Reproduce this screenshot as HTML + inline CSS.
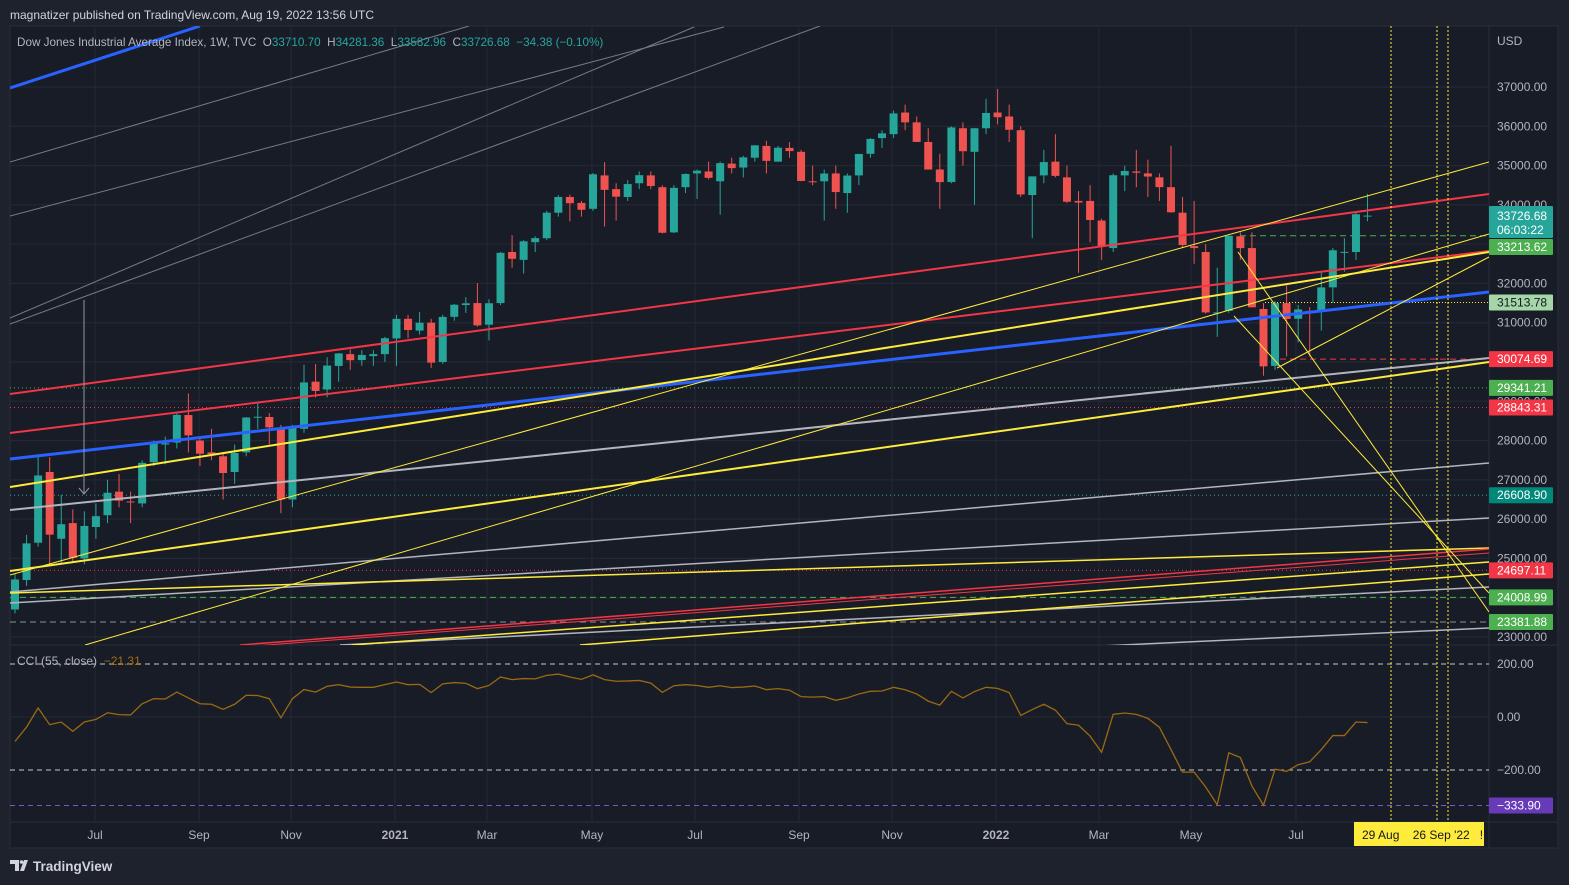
<!DOCTYPE html>
<html><head><meta charset="utf-8"><title>DJI weekly</title>
<style>
html,body{margin:0;padding:0;background:#1e222d;width:1569px;height:885px;overflow:hidden}
svg{display:block}
text{font-family:"Liberation Sans",sans-serif;white-space:pre}
</style></head>
<body>
<svg id="chart" width="1569" height="885" viewBox="0 0 1569 885" xmlns="http://www.w3.org/2000/svg"></svg>
<script>
// ---- data (weekly DJI, May 2020 - Aug 2022) ----
const opens=[23700,24450,25400,27200,25500,25900,25000,25800,26100,26700,26450,26400,27450,27900,27950,28650,28000,27700,27600,27200,27700,28600,28600,28300,26500,28300,29500,29300,29900,30200,30050,30150,30200,
30600,31100,30800,31000,30000,31150,31450,31500,30950,31500,32800,32600,33050,33150,33800,34200,34050,33900,34750,34400,34200,34550,34750,34450,33300,34450,34800,34850,34600,35050,34950,35200,35500,35100,35450,35350,34600,34600,34800,34300,34750,35300,35700,35800,36350,36100,35600,34900,34580,35950,35350,35950,
36350,36250,35900,34250,34750,35100,34700,34100,34100,33600,32900,34750,34850,34800,34700,34450,33800,32950,32800,31250,31300,33200,32900,31350,29900,31500,31100,31300,31300,31900,32800,32800,33711];
const highs=[24600,25600,27580,27580,26620,26250,26200,26400,27000,27150,26700,27500,28000,28100,28700,29200,28100,28300,27700,27900,28600,28950,28700,28400,28400,29930,29950,30120,30230,30320,30300,30300,30640,
31200,31200,31270,31100,31200,31480,31650,32010,31600,32800,33230,33100,33200,33850,34250,34260,34100,34810,35090,34550,34630,34850,34850,34500,34500,34800,34900,35100,35100,35200,35250,35520,35630,35500,35600,35400,35000,34900,35000,34800,35300,35700,35900,36400,36550,36250,35950,35300,36000,36100,35960,36700,
36950,36550,36000,34700,35400,35800,35000,34350,34500,33650,34800,35000,35400,35150,34800,35500,34200,34100,33000,32400,33220,33300,33300,31500,31550,31950,31450,31400,32300,32900,33150,33800,34281];
const lows=[23600,24300,25300,24860,24850,24900,24850,25500,25900,26300,25900,26300,27350,27400,27800,27700,27350,27500,26500,26900,27600,28300,27900,26150,26300,28200,29100,29100,29500,29800,29900,29900,30000,
29900,30600,30700,29850,29950,31050,31250,30900,30550,31450,32400,32250,32800,33100,33700,33580,33700,33850,33450,33600,34100,34400,34400,33270,33280,34300,34150,34650,33750,34800,34700,35100,34800,35100,35200,34600,34500,33600,33900,33800,34500,35200,35450,35700,35900,35600,34900,33900,34550,35000,34000,35800,
36050,35600,34200,33150,34550,34700,34050,32270,33050,32600,32800,34350,34450,34200,34100,33800,32900,32500,31230,30640,31250,32600,31390,29650,29800,30140,30500,30140,30800,31500,32300,32600,33583];
const closes=[24465,25383,27111,25605,25871,25016,25827,26075,26672,26470,26428,27433,27931,27930,28654,28133,27666,27657,27174,27683,28587,28606,28336,26502,28323,29480,29263,29910,30218,30046,30179,30200,30606,
31098,30814,31000,29983,31148,31458,31494,30932,31496,32779,32628,33072,33153,33801,34200,34043,33875,34778,34382,34208,34529,34756,34480,33290,34433,34786,34870,34688,35062,34935,35209,35515,35120,35455,35369,34608,34585,34798,34326,34746,35295,35677,35820,36328,36100,35602,34899,34580,35971,35365,35950,36338,
36231,35912,34265,34725,35089,34738,34079,34059,33615,32944,34754,34861,34818,34721,34451,33811,32977,32899,31262,31262,33213,32900,31393,29889,31501,31097,31338,31288,31899,32845,32803,33761,33727];
const cciValues=[-92,-38,34,-29,-19,-54,-19,-9,16,9,8,50,69,68,94,72,50,48,29,48,82,81,69,-3,69,104,94,116,122,113,112,112,122,132,122,123,92,125,130,127,107,119,151,141,145,144,157,162,151,142,159,141,135,136,138,128,93,118,122,119,
112,118,111,113,117,103,107,101,77,75,77,63,72,87,97,98,112,103,87,60,45,97,72,96,112,108,92,6,28,48,26,-25,-31,-72,-133,10,15,10,-5,-39,-123,-208,-208,-264,-331,-135,-153,-260,-333,-197,-205,-180,-169,-123,-70,-70,-19,-21];
const priceTicks=[23000,24000,25000,26000,27000,28000,29000,30000,31000,32000,33000,34000,35000,36000,37000];
const cciTicks=[200,0,-200];
const cciTickLabels=["200.00","0.00","\u2212200.00"];
const timeLabels=["Jul","Sep","Nov","2021","Mar","May","Jul","Sep","Nov","2022","Mar","May","Jul"];
const timeWeekIdx=[6.92,15.92,23.88,32.87,40.83,49.91,58.82,67.82,75.87,84.86,93.77,101.73,110.81];
const levelValues=[33213.62,31513.78,30074.69,29341.21,28843.31,26608.90,24697.11,24008.99,23381.88];

const NS="http://www.w3.org/2000/svg";
const svg=document.getElementById('chart');
function mk(tag,attrs,parent){const e=document.createElementNS(NS,tag);for(const k in attrs)e.setAttribute(k,attrs[k]);(parent||svg).appendChild(e);return e;}
const L=10,R=1489,PT=26,PB=645,CB=822,AB=848;
const yP=p=>87+(37000-p)*0.0392857;
const yC=v=>717-v*0.265;
const xI=i=>15+i*11.56;

let e=mk('rect',{x:L,y:PT,width:1548,height:AB-PT,fill:'#181c27',stroke:'#2a2e39'});


const defs=mk('defs',{});
const cp=mk('clipPath',{id:'cp'},defs);mk('rect',{x:L,y:PT,width:R-L,height:PB-PT},cp);
const cc=mk('clipPath',{id:'cc'},defs);mk('rect',{x:L,y:PB,width:R-L,height:CB-PB},cc);

const grid=mk('g',{stroke:'#252a36','stroke-width':1});


priceTicks.forEach(p=>{mk('line',{x1:L,x2:R,y1:yP(p),y2:yP(p)},grid);});
timeWeekIdx.forEach(w=>{mk('line',{x1:xI(w),x2:xI(w),y1:PT,y2:CB},grid);});
mk('line',{x1:L,x2:R,y1:yC(0),y2:yC(0)},grid);
mk('line',{x1:L,x2:1558,y1:PB,y2:PB,stroke:'#2a2e39'});
mk('line',{x1:L,x2:1558,y1:CB,y2:CB,stroke:'#2a2e39'});
mk('line',{x1:R,x2:R,y1:PT,y2:AB,stroke:'#2a2e39'});

const pg=mk('g',{'clip-path':'url(#cp)'});


const lvlStyle=[['#4caf50','6,4',1240],['#ffeb3b','1,2',1265],['#f23645','6,4',1280],['#4caf50','1,3',L],['#f23645','1,3',L],['#26a69a','1,3',L],['#f23645','1,3',L],['#4caf50','6,4',L],['#8d8f96','6,4',L]];
levelValues.forEach((v,k)=>{const s=lvlStyle[k];const ln=mk('line',{x1:s[2],x2:R,y1:yP(v),y2:yP(v),stroke:s[0],'stroke-dasharray':s[1],'stroke-width':1},pg);

});

closes.forEach((c,i)=>{const o=opens[i],h=highs[i],l=lows[i];const up=c>=o;const col=up?'#26a69a':'#ef5350';const x=xI(i);
const g=mk('g',{},pg);


mk('line',{x1:x,x2:x,y1:yP(h),y2:yP(l),stroke:col,'stroke-width':1},g);
const t=yP(Math.max(o,c)),b=yP(Math.min(o,c));
mk('rect',{x:x-4,y:t,width:8,height:Math.max(1,b-t),fill:col},g);});

const drawings=[
['#2962ff',3,10,459,1489,292],
['#f23645',2,10,394,1489,194],
['#f23645',2,10,433,1489,251],
['#ffeb3b',2,10,487,1489,252],
['#ffeb3b',2,10,571,1489,362],
['#b2b5be',2,10,510,1489,358],
['#b2b5be',1.5,10,592,1489,463],
['#b2b5be',1.5,10,603,1489,518],
['#b2b5be',1.5,340,645,1489,587],
['#b2b5be',1.5,1079,647,1489,628],
['#ffeb3b',1.5,10,593,1489,548],
['#f23645',1.5,240,645,1489,549],
['#f23645',1,240,647,1489,553],
['#ffeb3b',1.5,352,645,1489,562],
['#ffeb3b',1.5,580,645,1489,574],
['#ffeb3b',1,10,575,1489,162],
['#ffeb3b',1,85,645,1489,234],
['#ffeb3b',1,1277,368,1489,257],
['#ffeb3b',1,1234,316,1489,593],
['#ffeb3b',1,1238,252,1489,612],
['#787b86',1,10,162,469,26],
['#787b86',1,10,216,724,27],
['#787b86',1,10,318,694,27],
['#787b86',1,10,324,820,26],
['#2962ff',3,10,88,200,26]];
drawings.forEach(d=>{const ln=mk('line',{x1:d[2],y1:d[3],x2:d[4],y2:d[5],stroke:d[0],'stroke-width':d[1]},pg);

});
const ar=mk('g',{stroke:'#9598a1','stroke-width':1,fill:'none'},pg);


mk('line',{x1:84,x2:84,y1:300,y2:493},ar);
mk('polyline',{points:'79,488 84,494 89,488'},ar);

const cg=mk('g',{'clip-path':'url(#cc)'});


[[200,'#c8c8c8'],[-200,'#c8c8c8'],[-333.9,'#7e57c2']].forEach(b=>{const ln=mk('line',{x1:L,x2:R,y1:yC(b[0]),y2:yC(b[0]),stroke:b[1],'stroke-dasharray':'5,4','stroke-width':1},cg);

});
const cl=mk('polyline',{points:cciValues.map((v,i)=>xI(i)+','+yC(v)).join(' '),fill:'none',stroke:'#9a6a12','stroke-width':1.3},cg);



[1391,1437,1448].forEach(x=>{const ln=mk('line',{x1:x,x2:x,y1:PT,y2:CB,stroke:'#ffeb3b','stroke-dasharray':'2,2','stroke-width':1});

});

priceTicks.forEach(p=>{const t=mk('text',{x:1497,y:yP(p)+4,fill:'#b2b5be','font-size':12});t.textContent=p.toFixed(2);

});
e=mk('text',{x:1497,y:45,fill:'#b2b5be','font-size':12});e.textContent='USD';


cciTicks.forEach((v,k)=>{const t=mk('text',{x:1497,y:yC(v)+4,fill:'#b2b5be','font-size':12});t.textContent=cciTickLabels[k];

});

function badge(y,txt,bg,fg,name,h){const g=mk('g',{});


mk('rect',{x:R,y:y-(h||16)/2,width:64,height:h||16,fill:bg,rx:1},g);
const t=mk('text',{x:R+8,y:y+4,fill:fg,'font-size':12},g);t.textContent=txt;return g;}
const bg1=badge(222,'33726.68','#26a69a','#fff','last-price-badge',32);
bg1.querySelector('text').setAttribute('y',220);
e=mk('text',{x:R+8,y:234,fill:'#fff','font-size':12},bg1);e.textContent='06:03:22';
badge(247,'33213.62','#4caf50','#fff','level-badge-33213');
badge(yP(31513.78),'31513.78','#a5d6a7','#131722','level-badge-31513');
badge(yP(30074.69),'30074.69','#f23645','#fff','level-badge-30074');
badge(yP(29341.21),'29341.21','#4caf50','#fff','level-badge-29341');
badge(yP(28843.31),'28843.31','#f23645','#fff','level-badge-28843');
badge(yP(26608.90),'26608.90','#00897b','#fff','level-badge-26608');
badge(yP(24697.11),'24697.11','#f23645','#fff','level-badge-24697');
badge(yP(24008.99),'24008.99','#4caf50','#fff','level-badge-24008');
badge(yP(23381.88),'23381.88','#4caf50','#fff','level-badge-23381');
badge(yC(-333.9),'\u2212333.90','#673ab7','#fff','cci-min-badge');

timeLabels.forEach((s,k)=>{const t=mk('text',{x:xI(timeWeekIdx[k]),y:839,fill:'#b2b5be','font-size':12,'text-anchor':'middle','font-weight':(s.length===4?'bold':'normal')});t.textContent=s;

});
const tb=mk('g',{});


mk('rect',{x:1354,y:822,width:130,height:24,fill:'#ffeb3b'},tb);
e=mk('text',{x:1362,y:839,fill:'#131722','font-size':12},tb);e.textContent='29 Aug    26 Sep \'22   !';

e=mk('text',{x:10,y:19,fill:'#d1d4dc','font-size':12});e.textContent='magnatizer published on TradingView.com, Aug 19, 2022 13:56 UTC';


const lg=mk('text',{x:17,y:46,'font-size':11.7,fill:'#b2b5be'});


[['Dow Jones Industrial Average Index, 1W, TVC  O','#b2b5be'],['33710.70','#26a69a'],['  H','#b2b5be'],['34281.36','#26a69a'],['  L','#b2b5be'],['33582.96','#26a69a'],['  C','#b2b5be'],['33726.68','#26a69a'],['  \u221234.38 (\u22120.10%)','#26a69a']].forEach(p=>{const s=mk('tspan',{fill:p[1]},lg);s.textContent=p[0];});
const cg2=mk('text',{x:17,y:665,'font-size':12,fill:'#b2b5be'});


e=mk('tspan',{},cg2);e.textContent='CCI (55, close)  ';
e=mk('tspan',{fill:'#a36b10'},cg2);e.textContent='\u221221.31';

const fl=mk('g',{});


mk('path',{d:'M10 860h9v11h-4v-7h-5z M20 871l4-11h4l-4 11z',fill:'#d1d4dc'},fl);
mk('circle',{cx:21.5,cy:862,r:1.8,fill:'#d1d4dc'},fl);
e=mk('text',{x:33,y:871,fill:'#d1d4dc','font-size':13.5,'font-weight':'bold'},fl);e.textContent='TradingView';
</script>
</body></html>
